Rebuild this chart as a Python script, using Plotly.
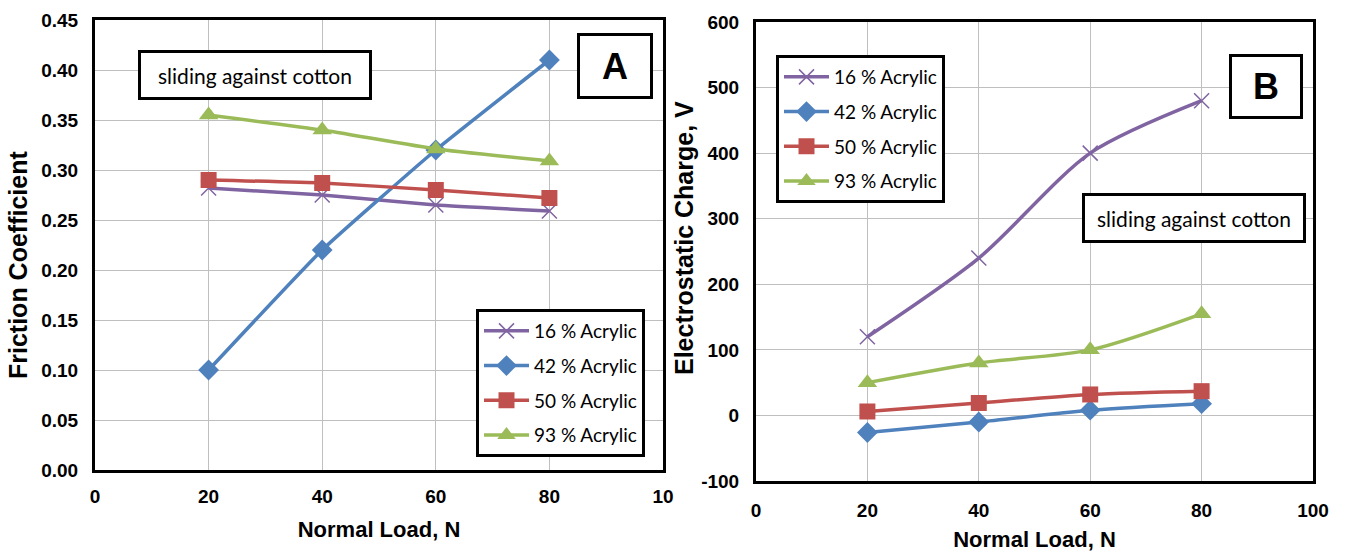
import plotly.graph_objects as go

W, H = 1347, 558

loads = [20, 40, 60, 80]
series_names = ["16 % Acrylic", "42 % Acrylic", "50 % Acrylic", "93 % Acrylic"]
colors = ["#8064A2", "#4F81BD", "#C0504D", "#9BBB59"]
symbols = ["x-thin-open", "diamond", "square", "triangle-up"]

friction_16 = [0.282, 0.275, 0.265, 0.259]
friction_42 = [0.100, 0.220, 0.320, 0.410]
friction_50 = [0.290, 0.287, 0.280, 0.272]
friction_93 = [0.355, 0.340, 0.321, 0.309]

charge_16 = [120, 240, 400, 480]
charge_42 = [-26, -10, 8, 18]
charge_50 = [6, 19, 32, 37]
charge_93 = [50, 80, 100, 155]

left_yticks = [0.00, 0.05, 0.10, 0.15, 0.20, 0.25, 0.30, 0.35, 0.40, 0.45]
left_xticks = [0, 20, 40, 60, 80, 100]
left_xticklabels = ["0", "20", "40", "60", "80", "10"]
right_yticks = [-100, 0, 100, 200, 300, 400, 500, 600]
right_yticklabels = ["-100", "0", "100", "200", "300", "400", "500", "600"]
right_xticks = [0, 20, 40, 60, 80, 100]

friction = [friction_16, friction_42, friction_50, friction_93]
charge = [charge_16, charge_42, charge_50, charge_93]

def px_x(p):
    return p / W

def px_y(p):
    return 1 - p / H

fig = go.Figure()

marker_sizes = [15, 16, 16, 17]

def mk(i):
    return dict(symbol=symbols[i], size=marker_sizes[i], color=colors[i],
                line=dict(color=colors[i], width=1.5 if i == 0 else 0))

for i, name in enumerate(series_names):
    fig.add_trace(go.Scatter(
        x=loads, y=friction[i], mode="lines+markers", name=name,
        line=dict(color=colors[i], width=3.5, shape="spline", smoothing=0.4),
        marker=mk(i), xaxis="x", yaxis="y", legend="legend", legendgroup="a" + str(i)))

for i, name in enumerate(series_names):
    fig.add_trace(go.Scatter(
        x=loads, y=charge[i], mode="lines+markers", name=name,
        line=dict(color=colors[i], width=3.5, shape="spline", smoothing=0.8),
        marker=mk(i), xaxis="x2", yaxis="y2", legend="legend2", legendgroup="b" + str(i)))

tickfont = dict(family="Liberation Sans", size=19, color="black", weight="bold")
xtitlefont = dict(family="Liberation Sans", size=22, color="black", weight="bold")
ytitlefont = dict(family="Liberation Sans", size=25, color="black", weight="bold")
grid = "#BFBFBF"

common_axis = dict(showgrid=True, gridcolor=grid, gridwidth=1, zeroline=False,
                   showline=True, linecolor="black", linewidth=3, mirror=True,
                   ticks="", tickfont=tickfont, automargin=False)

fig.update_layout(
    width=W, height=H,
    margin=dict(l=0, r=0, t=0, b=0),
    paper_bgcolor="white", plot_bgcolor="white",
    xaxis=dict(domain=[px_x(95), px_x(663)], range=[0, 100], tickvals=left_xticks,
               ticktext=left_xticklabels, anchor="y", ticklabelstandoff=7,
               title=dict(text="Normal Load, N", font=xtitlefont, standoff=16),
               **common_axis),
    yaxis=dict(domain=[px_y(470), px_y(20)], range=[0, 0.45], tickvals=left_yticks,
               tickformat=".2f", anchor="x", ticklabelstandoff=10,
               **common_axis),
    xaxis2=dict(domain=[px_x(756), px_x(1313)], range=[0, 100], tickvals=right_xticks,
                anchor="y2", ticklabelstandoff=10,
                title=dict(text="Normal Load, N", font=xtitlefont, standoff=12),
                **common_axis),
    yaxis2=dict(domain=[px_y(481), px_y(22)], range=[-100, 600], tickvals=right_yticks,
                ticktext=right_yticklabels, anchor="x2", ticklabelstandoff=10,
                **common_axis),
    legend=dict(x=px_x(476), y=px_y(309), xanchor="left", yanchor="top",
                bgcolor="white", bordercolor="black", borderwidth=3,
                font=dict(family="Lato", size=19, color="black"),
                tracegroupgap=7, itemwidth=45),
    legend2=dict(x=px_x(776), y=px_y(55), xanchor="left", yanchor="top",
                 bgcolor="white", bordercolor="black", borderwidth=3,
                 font=dict(family="Lato", size=19, color="black"),
                 tracegroupgap=7, itemwidth=45),
    showlegend=True,
)

# y-axis titles
fig.add_annotation(xref="paper", yref="paper", x=px_x(18), y=px_y(265),
                   text="Friction Coefficient", showarrow=False, textangle=-90,
                   font=ytitlefont, xanchor="center", yanchor="middle")
fig.add_annotation(xref="paper", yref="paper", x=px_x(684), y=px_y(238),
                   text="Electrostatic Charge, V", showarrow=False, textangle=-90,
                   font=ytitlefont, xanchor="center", yanchor="middle")

# text boxes
fig.add_annotation(xref="paper", yref="paper", x=px_x(255), y=px_y(75),
                   text="sliding against cotton", showarrow=False,
                   font=dict(family="Lato", size=21, color="black"),
                   bordercolor="black", borderwidth=3, bgcolor="white",
                   width=226, height=42, xanchor="center", yanchor="middle")
fig.add_annotation(xref="paper", yref="paper", x=px_x(615), y=px_y(66),
                   text="A", showarrow=False,
                   font=dict(family="Liberation Sans", size=36, color="black", weight="bold"),
                   bordercolor="black", borderwidth=3, bgcolor="white",
                   width=68, height=58, xanchor="center", yanchor="middle")
fig.add_annotation(xref="paper", yref="paper", x=px_x(1194), y=px_y(218),
                   text="sliding against cotton", showarrow=False,
                   font=dict(family="Lato", size=21, color="black"),
                   bordercolor="black", borderwidth=3, bgcolor="white",
                   width=216, height=42, xanchor="center", yanchor="middle")
fig.add_annotation(xref="paper", yref="paper", x=px_x(1266), y=px_y(87),
                   text="B", showarrow=False,
                   font=dict(family="Liberation Sans", size=36, color="black", weight="bold"),
                   bordercolor="black", borderwidth=3, bgcolor="white",
                   width=66, height=57, xanchor="center", yanchor="middle")

fig.write_html("out.html", config={"displayModeBar": False},
               post_script="document.body.style.margin='0';document.body.style.padding='0';")
